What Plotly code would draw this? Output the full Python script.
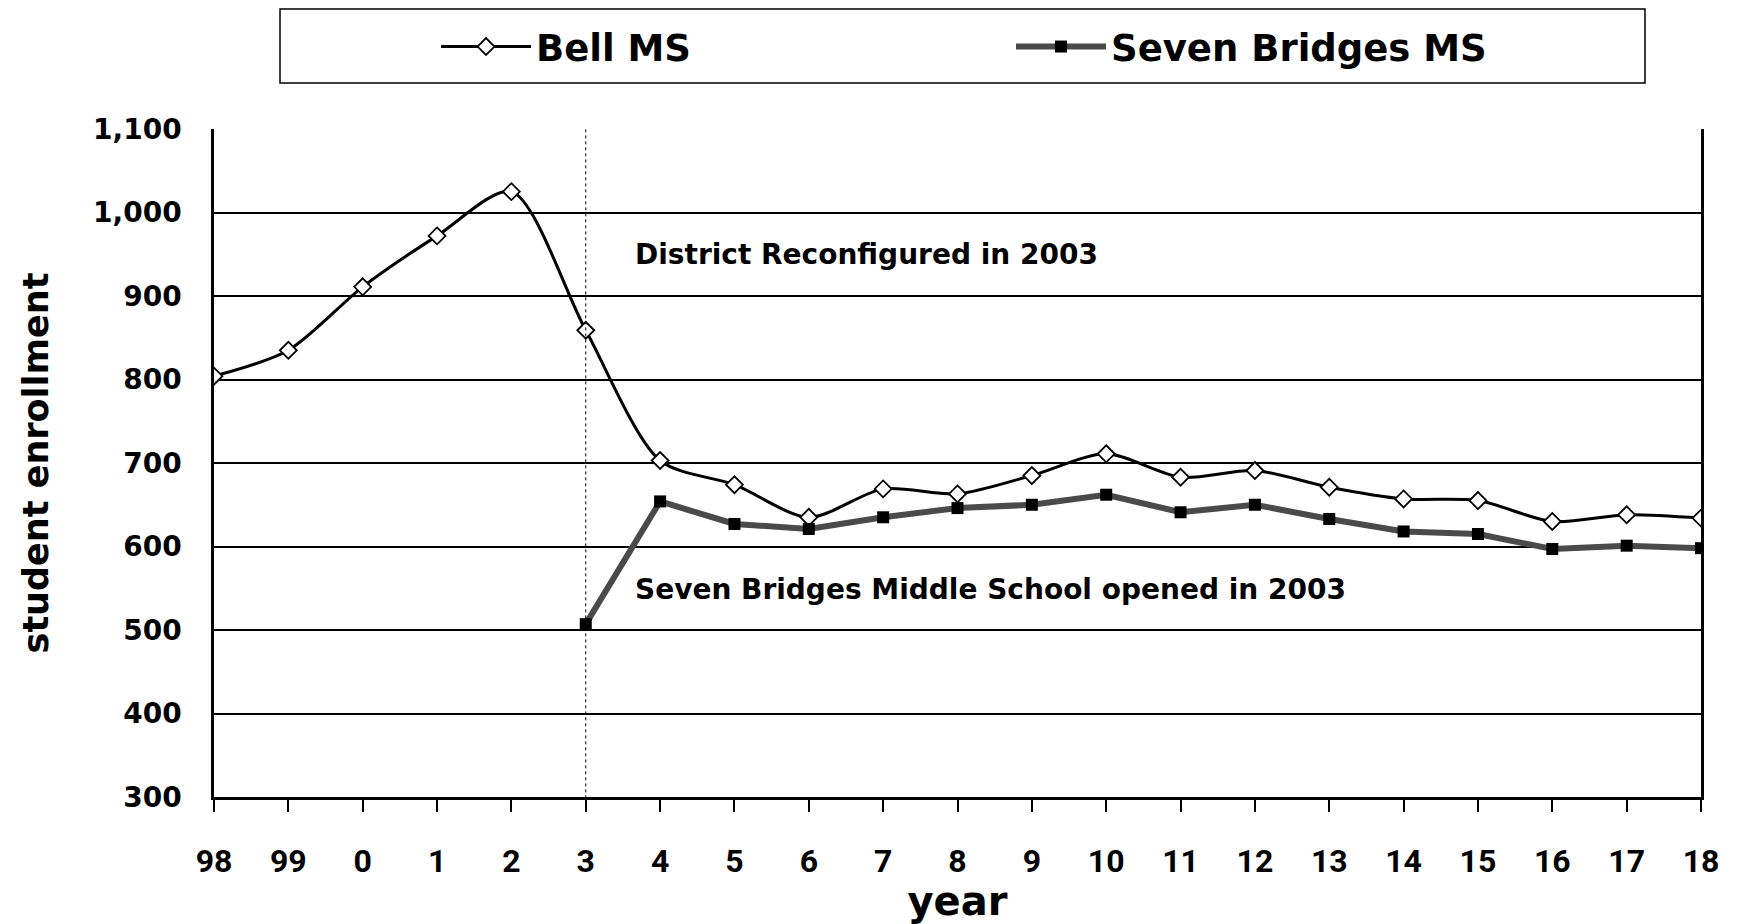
import plotly.graph_objects as go

years = ["98", "99", "0", "1", "2", "3", "4", "5", "6", "7", "8", "9", "10",
         "11", "12", "13", "14", "15", "16", "17", "18"]
bell_ms = [804, 835, 911, 972, 1025, 859, 703, 674, 635, 669, 663, 685, 711,
           683, 691, 671, 657, 655, 630, 638, 634]
seven_years = ["3", "4", "5", "6", "7", "8", "9", "10", "11", "12", "13", "14",
               "15", "16", "17", "18"]
seven_bridges_ms = [507, 654, 627, 621, 635, 646, 650, 662, 641, 650, 633, 618,
                    615, 597, 601, 598]
y_ticks = [300, 400, 500, 600, 700, 800, 900, 1000, 1100]

FONT = "DejaVu Sans"
W, H = 1742, 924
L, R, T, B = 214, 41, 129, 127
PW, PH = W - L - R, H - T - B

x_bell = [years.index(y) for y in years]
x_seven = [years.index(y) for y in seven_years]

fig = go.Figure()
fig.add_trace(go.Scatter(
    x=x_bell, y=bell_ms, name="Bell MS", mode="lines+markers",
    line=dict(color="black", width=3, shape="spline", smoothing=0.8),
    marker=dict(symbol="diamond", size=13, color="white",
                line=dict(color="black", width=1.8)),
))
fig.add_trace(go.Scatter(
    x=x_seven, y=seven_bridges_ms, name="Seven Bridges MS", mode="lines+markers",
    line=dict(color="#4a4a4a", width=6),
    marker=dict(symbol="square", size=12, color="black"),
))

# dotted reconfiguration line at year 3
x3 = years.index("3")
fig.add_shape(type="line", xref="x", yref="paper", x0=x3, x1=x3, y0=-0.02, y1=1,
              line=dict(color="black", width=1, dash="dot"))

def px_x(p):
    return (p - L) / PW

def px_y(p):
    return 1 - (p - T) / PH

# legend box
fig.add_shape(type="rect", xref="paper", yref="paper",
              x0=px_x(280), x1=px_x(1645), y0=px_y(83), y1=px_y(9),
              line=dict(color="black", width=1.5), fillcolor="white", layer="below")

fig.add_annotation(x=5.64, y=950, xref="x", yref="y", text="District Reconfigured in 2003",
                   showarrow=False, xanchor="left", yanchor="middle",
                   font=dict(family=FONT, size=28, color="black", weight="bold"))
fig.add_annotation(x=5.64, y=549, xref="x", yref="y",
                   text="Seven Bridges Middle School opened in 2003",
                   showarrow=False, xanchor="left", yanchor="middle",
                   font=dict(family=FONT, size=28, color="black", weight="bold"))

fig.update_layout(
    width=W, height=H,
    margin=dict(l=L, r=R, t=T, b=B, pad=0),
    paper_bgcolor="white", plot_bgcolor="white",
    showlegend=True,
    legend=dict(orientation="h", x=px_x(436), xanchor="left",
                y=px_y(47), yanchor="middle",
                bgcolor="rgba(0,0,0,0)", borderwidth=0,
                itemwidth=90, entrywidth=470, entrywidthmode="pixels",
                font=dict(family=FONT, size=37, color="black", weight="bold")),
    xaxis=dict(
        range=[0, len(years) - 1], tickmode="array",
        tickvals=x_bell, ticktext=years,
        showgrid=False, zeroline=False,
        showline=True, linecolor="black", linewidth=3,
        ticks="outside", ticklen=12, tickwidth=1.5, tickcolor="black",
        ticklabelstandoff=22,
        tickfont=dict(family="Roboto", size=32, color="black", weight="bold"),
        title=dict(text="year", standoff=0,
                   font=dict(family=FONT, size=40, color="black", weight="bold")),
    ),
    yaxis=dict(
        range=[300, 1100], tickmode="array", tickvals=y_ticks,
        tickformat=",d",
        showgrid=True, gridcolor="black", gridwidth=1.5, zeroline=False,
        showline=True, linecolor="black", linewidth=2.5, mirror=True,
        ticks="", ticklabelstandoff=24,
        tickfont=dict(family=FONT, size=28, color="black", weight="bold"),
        title=dict(text="student enrollment", standoff=34,
                   font=dict(family=FONT, size=35, color="black", weight="bold")),
    ),
)

fig.write_html("out.html", config={"displayModeBar": False},
               post_script="document.body.style.margin='0';")
